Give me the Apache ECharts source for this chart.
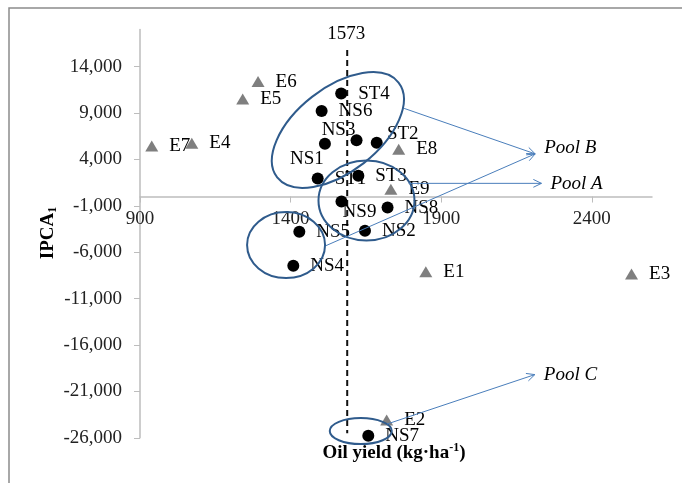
<!DOCTYPE html>
<html><head><meta charset="utf-8">
<script src="https://cdn.jsdelivr.net/npm/echarts@6/dist/echarts.min.js"></script>
<style>html,body{margin:0;padding:0;background:#fff}#c{width:682px;height:483px}</style>
</head><body><div id="c"></div>
<script>
// ---- data ----
const genotypeNames = ['ST1','ST2','ST3','ST4','NS1','NS2','NS3','NS4','NS5','NS6','NS7','NS8','NS9'];
const genotypeYield = [1490,1686,1625,1568,1514,1647,1619,1409,1429,1503,1658,1722,1569];
const genotypeIPCA  = [1940,5800,2230,11100,5680,-3700,6060,-7470,-3800,9210,-25780,-1190,-530];
const envNames = ['E1','E2','E3','E4','E5','E6','E7','E8','E9'];
const envYield = [1849,1719,2532,1072,1241,1292,939,1759,1733];
const envIPCA  = [-8100,-24080,-8350,5730,10510,12390,5440,5090,780];
const xTicks = [900,1400,1900,2400];
const yTicks = [-26000,-21000,-16000,-11000,-6000,-1000,4000,9000,14000];
const meanYieldLine = 1588;        // position of the dashed line as drawn
const meanYieldText = '1573';
const meanLineSpan = [15800, -25500];
// pools: ellipse centres (data units) and arrow start/end (data units)
const poolNames = ['Pool B','Pool A','Pool C'];
const ellipseCentres = [[1557,7170],[1652,-430],[1385,-5230],[1633,-25270]];
const arrowStarts = [[1777,9500],[1517,-5300],[1792,1420],[1720,-24520]];
const arrowEnds   = [[2212,4600],[2212,4600],[2233,1420],[2211,-19190]];
const poolLabelAnchors = [[2212,4600],[2233,1420],[2211,-19190]];

// ---- styling (not data) ----
const FONT = '"Liberation Serif", "Times New Roman", serif';
const FS = 19;
const labelOffsets = {NS3:[-18,-10], NS1:[-18,15], ST2:[26,-9], NS9:[18,11]};
const ellipseGeom = [ // rx, ry, rotation deg
  [77,42,38],[48,40,0],[39,33,0],[31,13,0]
];
const GRID = {left:140, right:30, top:29.5, bottom:45.2};

function pointData(names, xs, ys){
  return names.map((n,i)=>{
    const item = {name:n, value:[xs[i], ys[i]]};
    if (labelOffsets[n]) item.label = {position:'inside', offset:labelOffsets[n], distance:0};
    return item;
  });
}

const chart = echarts.init(document.getElementById('c'), null, {renderer:'canvas'});
const labelCommon = {show:true, position:'right', distance:11, color:'#000', fontFamily:FONT, fontSize:FS, formatter:p=>p.name};

chart.setOption({
  animation:false,
  backgroundColor:'#fff',
  grid:Object.assign({containLabel:false, outerBoundsMode:'none'}, GRID),
  xAxis:{type:'value', min:900, max:2600, interval:500, position:'bottom', offset:0,
    axisLine:{show:true, onZero:false, lineStyle:{color:'#bdbdbd', width:1.5}},
    axisTick:{show:true, length:6, lineStyle:{color:'#bdbdbd'}, customValues:xTicks},
    axisLabel:{color:'#222', fontFamily:FONT, fontSize:FS, margin:13, customValues:xTicks,
      formatter:v=>String(v)},
    splitLine:{show:false}},
  yAxis:{type:'value', min:-26000, max:18000, interval:5000,
    axisLine:{show:true, onZero:false, lineStyle:{color:'#bdbdbd', width:1.5}},
    axisTick:{show:true, length:6, lineStyle:{color:'#bdbdbd'}, customValues:yTicks},
    axisLabel:{color:'#222', fontFamily:FONT, fontSize:FS, margin:18, customValues:yTicks,
      formatter:v=>v.toLocaleString('en-US')},
    splitLine:{show:false}},
  series:[
    {type:'line', data:[[meanYieldLine, meanLineSpan[0]],[meanYieldLine, meanLineSpan[1]]],
      symbol:'none', clip:false, silent:true, z:1,
      lineStyle:{color:'#111', width:2, type:[6,4]}},
    {type:'scatter', name:'Environments', data:pointData(envNames, envYield, envIPCA),
      symbol:'triangle', symbolSize:[13,11], itemStyle:{color:'#7f7f7f', opacity:1}, label:labelCommon, z:3},
    {type:'scatter', name:'Genotypes', data:pointData(genotypeNames, genotypeYield, genotypeIPCA),
      symbol:'circle', symbolSize:12, itemStyle:{color:'#000', opacity:1}, label:labelCommon, z:3}
  ]
});

function px(p){ return chart.convertToPixel({gridIndex:0}, p); }
// move the x axis (line, ticks, labels) to y = 0
const zeroY = px([900, 0])[1];
const bottomY = chart.getHeight() - GRID.bottom;
chart.setOption({xAxis:{offset: zeroY - bottomY}});

const g = [];
// outer frame
g.push({type:'rect', shape:{x:9,y:8,width:900,height:700}, style:{fill:'none', stroke:'#8c8c8c', lineWidth:1.5}, z:0});
// ellipses
ellipseCentres.forEach((c,i)=>{
  const p = px(c); const e = ellipseGeom[i];
  g.push({type:'ellipse', x:p[0], y:p[1], rotation:e[2]*Math.PI/180,
    shape:{cx:0, cy:0, rx:e[0], ry:e[1]},
    style:{fill:'none', stroke:'#2f5b8c', lineWidth:2}, z:10});
});
// arrows
arrowStarts.forEach((s,i)=>{
  const a = px(s), b = px(arrowEnds[i]);
  g.push({type:'line', shape:{x1:a[0],y1:a[1],x2:b[0],y2:b[1]}, style:{stroke:'#4a7ebb', lineWidth:1}, z:10});
  const ang = Math.atan2(b[1]-a[1], b[0]-a[0]); const L = 9, w = 0.45;
  g.push({type:'polyline', shape:{points:[
    [b[0]-L*Math.cos(ang-w), b[1]-L*Math.sin(ang-w)], [b[0],b[1]],
    [b[0]-L*Math.cos(ang+w), b[1]-L*Math.sin(ang+w)]]},
    style:{stroke:'#4a7ebb', lineWidth:1, fill:'none'}, z:10});
});
// pool labels
const poolDy = [-6, 1, 0];
poolLabelAnchors.forEach((a,i)=>{
  const p = px(a);
  g.push({type:'text', x:p[0]+9, y:p[1]+poolDy[i], style:{text:poolNames[i], font:'italic 19px '+FONT, fill:'#000', align:'left', verticalAlign:'middle'}, z:11});
});
// mean line label
const meanTop = px([meanYieldLine, meanLineSpan[0]]);
g.push({type:'text', x:meanTop[0]-1, y:meanTop[1]-6, style:{text:meanYieldText, font:FS+'px '+FONT, fill:'#000', align:'center', verticalAlign:'bottom'}, z:11});
// axis titles
g.push({type:'text', x:394, y:453, style:{text:'{b|Oil yield (kg·ha}{s|-1}{b|)}', align:'center', verticalAlign:'middle',
  rich:{b:{fontFamily:FONT, fontWeight:'bold', fontSize:19, lineHeight:22, color:'#000'},
        s:{fontFamily:FONT, fontWeight:'bold', fontSize:12, lineHeight:12, verticalAlign:'top', color:'#000'}}}, z:11});
g.push({type:'text', x:48, y:233, rotation:Math.PI/2, style:{text:'{b|IPCA}{s|1}', align:'center', verticalAlign:'middle',
  rich:{b:{fontFamily:FONT, fontWeight:'bold', fontSize:19, lineHeight:22, color:'#000'},
        s:{fontFamily:FONT, fontWeight:'bold', fontSize:12, lineHeight:12, verticalAlign:'bottom', color:'#000'}}}, z:11});
chart.setOption({graphic:g});
</script>
</body></html>
